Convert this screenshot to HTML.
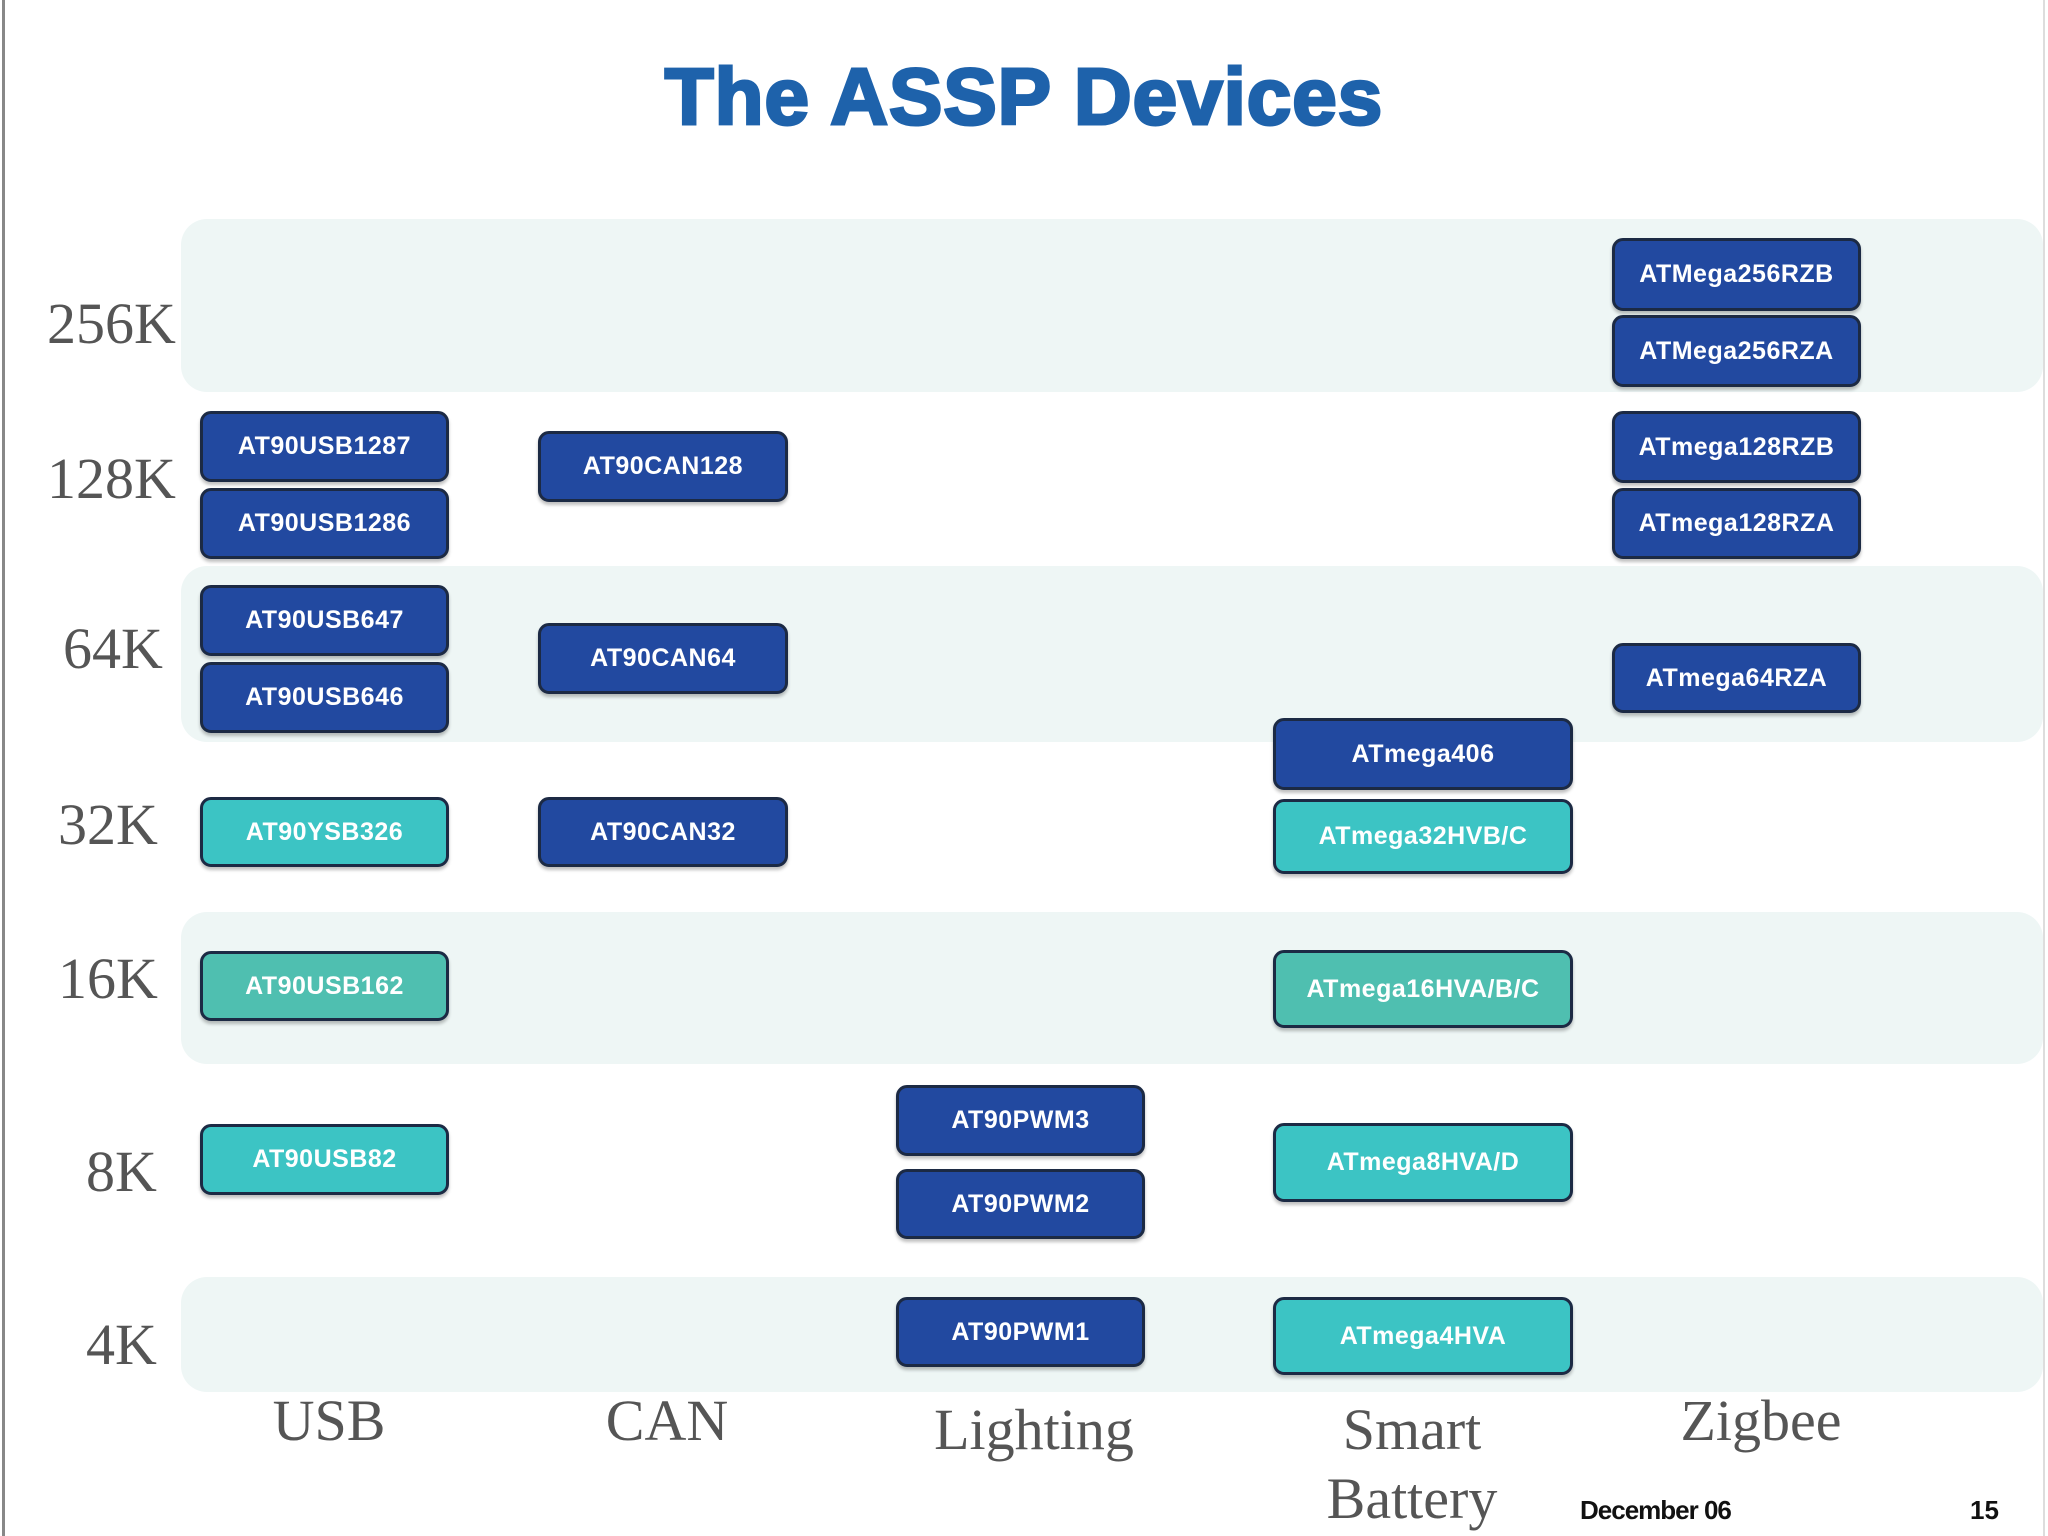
<!DOCTYPE html>
<html><head><meta charset="utf-8"><style>
body{margin:0;width:2048px;height:1536px;position:relative;background:#fff;overflow:hidden;font-family:"Liberation Sans",sans-serif}
.a{position:absolute}
.band{position:absolute;left:181px;width:1862px;background:#eef6f5;border-radius:26px}
.b{position:absolute;box-sizing:border-box;border:3px solid #1c2a44;border-radius:11px;color:#fff;font-weight:bold;font-size:25px;display:flex;align-items:center;justify-content:center;letter-spacing:0.5px;box-shadow:0 3px 3px rgba(0,0,0,0.25)}
.bl{background:#2249a0}.tl{background:#3cc4c4}.gr{background:#4fbfb0}
.y{position:absolute;font-family:"Liberation Serif",serif;color:#555;font-size:58px;line-height:1;transform:translateY(-50%)}
.x{position:absolute;font-family:"Liberation Serif",serif;color:#555;font-size:58px;line-height:1;transform:translate(-50%,-50%);white-space:nowrap}
</style></head><body>
<div class="a" style="left:2px;top:0;width:3px;height:1536px;background:#888"></div>
<div class="a" style="left:2043px;top:0;width:2px;height:1536px;background:#ddd"></div>
<div class="a" style="left:0;width:2048px;top:52px;text-align:center;font-size:80px;font-weight:bold;color:#1e62ab;-webkit-text-stroke:3px #1e62ab;letter-spacing:1px;line-height:90px">The ASSP Devices</div>

<div class="band" style="top:219px;height:173px"></div>
<div class="band" style="top:566px;height:176px"></div>
<div class="band" style="top:912px;height:152px"></div>
<div class="band" style="top:1277px;height:115px"></div>

<div class="y" style="left:47px;top:324px">256K</div>
<div class="y" style="left:47px;top:479px">128K</div>
<div class="y" style="left:63px;top:649px">64K</div>
<div class="y" style="left:58px;top:825px">32K</div>
<div class="y" style="left:58px;top:979px">16K</div>
<div class="y" style="left:86px;top:1172px">8K</div>
<div class="y" style="left:86px;top:1345px">4K</div>

<div class="b bl" style="left:200px;top:411px;width:249px;height:71px">AT90USB1287</div>
<div class="b bl" style="left:200px;top:488px;width:249px;height:71px">AT90USB1286</div>
<div class="b bl" style="left:200px;top:585px;width:249px;height:71px">AT90USB647</div>
<div class="b bl" style="left:200px;top:662px;width:249px;height:71px">AT90USB646</div>
<div class="b tl" style="left:200px;top:797px;width:249px;height:70px">AT90YSB326</div>
<div class="b gr" style="left:200px;top:951px;width:249px;height:70px">AT90USB162</div>
<div class="b tl" style="left:200px;top:1124px;width:249px;height:71px">AT90USB82</div>

<div class="b bl" style="left:538px;top:431px;width:250px;height:71px">AT90CAN128</div>
<div class="b bl" style="left:538px;top:623px;width:250px;height:71px">AT90CAN64</div>
<div class="b bl" style="left:538px;top:797px;width:250px;height:70px">AT90CAN32</div>

<div class="b bl" style="left:896px;top:1085px;width:249px;height:71px">AT90PWM3</div>
<div class="b bl" style="left:896px;top:1169px;width:249px;height:70px">AT90PWM2</div>
<div class="b bl" style="left:896px;top:1297px;width:249px;height:70px">AT90PWM1</div>

<div class="b bl" style="left:1273px;top:718px;width:300px;height:72px">ATmega406</div>
<div class="b tl" style="left:1273px;top:799px;width:300px;height:75px">ATmega32HVB/C</div>
<div class="b gr" style="left:1273px;top:950px;width:300px;height:78px">ATmega16HVA/B/C</div>
<div class="b tl" style="left:1273px;top:1123px;width:300px;height:79px">ATmega8HVA/D</div>
<div class="b tl" style="left:1273px;top:1297px;width:300px;height:78px">ATmega4HVA</div>

<div class="b bl" style="left:1612px;top:238px;width:249px;height:73px">ATMega256RZB</div>
<div class="b bl" style="left:1612px;top:315px;width:249px;height:72px">ATMega256RZA</div>
<div class="b bl" style="left:1612px;top:411px;width:249px;height:72px">ATmega128RZB</div>
<div class="b bl" style="left:1612px;top:488px;width:249px;height:71px">ATmega128RZA</div>
<div class="b bl" style="left:1612px;top:643px;width:249px;height:70px">ATmega64RZA</div>

<div class="x" style="left:329px;top:1421px">USB</div>
<div class="x" style="left:667px;top:1421px">CAN</div>
<div class="x" style="left:1034px;top:1430px">Lighting</div>
<div class="x" style="left:1412px;top:1430px">Smart</div>
<div class="x" style="left:1412px;top:1499px">Battery</div>
<div class="x" style="left:1761px;top:1421px">Zigbee</div>

<div class="a" style="left:1580px;top:1495px;font-size:26px;font-weight:bold;color:#111;letter-spacing:-1px">December 06</div>
<div class="a" style="left:1970px;top:1495px;font-size:26px;font-weight:bold;color:#111">15</div>
</body></html>
